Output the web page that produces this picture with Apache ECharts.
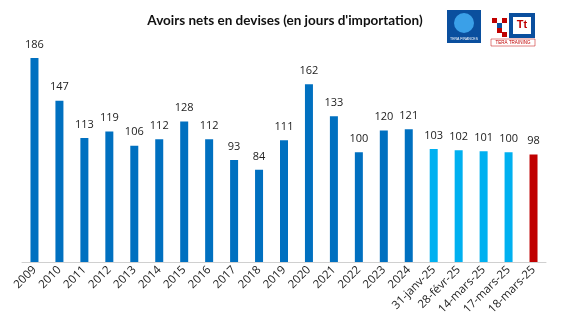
<!DOCTYPE html>
<html><head><meta charset="utf-8">
<script src="https://cdn.jsdelivr.net/npm/echarts@6/dist/echarts.min.js"></script>
<style>html,body{margin:0;padding:0;background:#fff}#c{width:561px;height:332px}</style>
</head><body><div id="c"></div>
<script>
const categories = ['2009','2010','2011','2012','2013','2014','2015','2016','2017','2018','2019','2020','2021','2022','2023','2024','31-janv-25','28-févr-25','14-mars-25','17-mars-25','18-mars-25'];
const values = [186,147,113,119,106,112,128,112,93,84,111,162,133,100,120,121,103,102,101,100,98];
const kinds = ['y','y','y','y','y','y','y','y','y','y','y','y','y','y','y','y','d','d','d','d','last'];
const colorMap = {y:'#0070C0', d:'#00B0F0', last:'#C00000'};
const titleText = "Avoirs nets en devises (en jours d'importation)";

const chart = echarts.init(document.getElementById('c'));
chart.setOption({
  animation:false,
  title:{text:titleText,left:280,top:9,textAlign:'center',textStyle:{fontFamily:'Lato',fontWeight:'bold',fontSize:13.5,color:'#111'}},
  grid:{left:22,right:15,top:58,bottom:70},
  xAxis:{type:'category',data:categories,
    axisLine:{lineStyle:{color:'#d0d0d0',width:1}},axisTick:{show:false},
    axisLabel:{rotate:45,interval:0,fontSize:11.5,color:'#222',fontFamily:'Open Sans',margin:6}},
  yAxis:{type:'value',min:0,max:186,show:false,splitLine:{show:false}},
  series:[{type:'bar',barWidth:8,
    data:values.map((v,i)=>({value:v,itemStyle:{color:colorMap[kinds[i]]}})),
    label:{show:true,position:'top',distance:8,fontSize:11,color:'#222',fontFamily:'Open Sans'}}],
  graphic:[
    {type:'rect',shape:{x:447,y:10,width:34,height:33},style:{fill:'#0a4f9e'}},
    {type:'circle',shape:{cx:464,cy:23,r:10},style:{fill:'#3aa0e8'}},
    {type:'text',style:{x:464,y:37,text:'TERA FINANCES',fontSize:3.5,fill:'#fff',align:'center'}},
    {type:'rect',shape:{x:509,y:13,width:26,height:25},style:{fill:'#0a4f9e'}},
    {type:'rect',shape:{x:513,y:17,width:18,height:17},style:{fill:'#fff'}},
    {type:'text',style:{x:522,y:19,text:'Tt',fontSize:11,fontWeight:'bold',fill:'#c00000',align:'center'}},
    {type:'rect',shape:{x:492,y:18,width:5,height:5},style:{fill:'#c00000'}},
    {type:'rect',shape:{x:502,y:18,width:5,height:5},style:{fill:'#c00000'}},
    {type:'rect',shape:{x:497,y:23,width:5,height:5},style:{fill:'#0a4f9e'}},
    {type:'rect',shape:{x:497,y:28,width:5,height:5},style:{fill:'#c00000'}},
    {type:'rect',shape:{x:502,y:32,width:5,height:5},style:{fill:'#c00000'}},
    {type:'rect',shape:{x:491,y:39,width:44,height:7},style:{fill:'#fff',stroke:'#c00000',lineWidth:0.5}},
    {type:'text',style:{x:513,y:40.5,text:'TERA TRAINING',fontSize:4.5,fill:'#c00000',align:'center'}}
  ]
});
</script></body></html>
